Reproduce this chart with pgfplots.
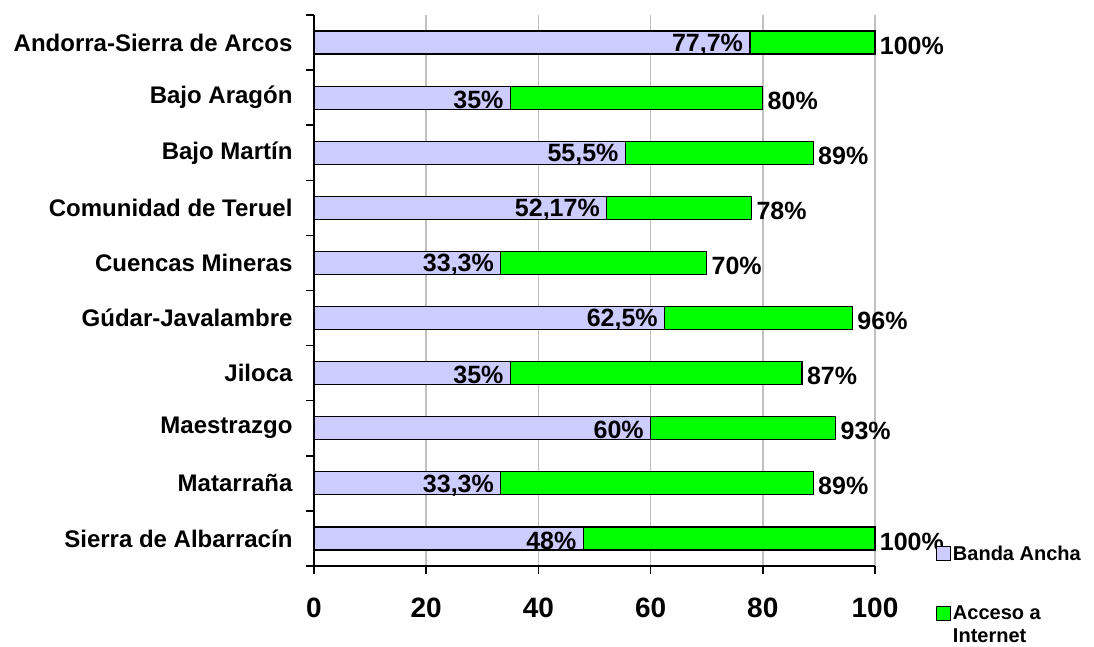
\documentclass[border=0pt]{standalone}
\usepackage{fontspec}
\setmainfont{Liberation Sans}
\usepackage{pgfplots}
\pgfplotsset{compat=1.18}
\definecolor{banda}{RGB}{204,204,255}
\definecolor{acceso}{RGB}{0,255,0}
\definecolor{rejilla}{RGB}{192,192,192}

\begin{document}
\begin{tikzpicture}
\path[use as bounding box] (-314pt,-80pt) rectangle (780pt,566pt);
\begin{axis}[
  scale only axis, width=561pt, height=551pt,
  xbar, bar width=23pt, bar shift=0pt,
  xmin=0, xmax=100, ymin=-0.5, ymax=9.5,
  clip=false,
  axis x line*=bottom, axis y line*=left,
  axis line style={-, line width=1.5pt},
  xtick={0,20,...,100}, minor xtick={0,20,...,100},
  ytick={0,...,9}, minor ytick={-0.5,0.5,...,9.5},
  yticklabels={Sierra de Albarracín, Matarraña, Maestrazgo, Jiloca,
    Gúdar-Javalambre, Cuencas Mineras, Comunidad de Teruel,
    Bajo Martín, Bajo Aragón, Andorra-Sierra de Arcos},
  major tick length=0pt, minor tick length=8pt,
  tick align=outside,
  tick style={black, line width=1.5pt},
  xmajorgrids, major grid style={rejilla, line width=1.5pt},
  /pgf/number format/assume math mode=true,
  xticklabel style={font=\bfseries\fontsize{28}{28}\selectfont, yshift=-28pt},
  yticklabel style={font=\bfseries\fontsize{24}{26}\selectfont, xshift=-18pt},
  reverse legend,
  legend image code/.code={\draw[#1, line width=1.2pt] (0pt,-7pt) rectangle (14pt,7pt);},
  legend style={at={(1.108,0.041)}, anchor=north west, draw=none, fill=none,
    inner sep=0pt, row sep=40pt, cells={align=left, anchor=west},
    font=\bfseries\fontsize{20}{23}\selectfont},
]
\addplot[fill=acceso, draw=black, line width=1.2pt, point meta=x,
  nodes near coords={\pgfmathprintnumber[fixed, precision=2, use comma]{\pgfplotspointmeta}\%},
  nodes near coords style={anchor=west, xshift=1pt, yshift=-3pt,
    font=\bfseries\fontsize{25}{25}\selectfont}]
  coordinates {
  (100,9) (80,8) (89,7) (78,6) (70,5) (96,4) (87,3) (93,2) (89,1) (100,0)
};
\addlegendentry{\vphantom{A}\smash{\begin{tabular}[t]{@{}l@{}}Acceso a\\Internet\end{tabular}}}
\addplot[fill=banda, draw=black, line width=1.2pt, point meta=x,
  nodes near coords={\pgfmathprintnumber[fixed, precision=2, use comma]{\pgfplotspointmeta}\%},
  nodes near coords style={anchor=east, xshift=-3pt, yshift=-2pt,
    font=\bfseries\fontsize{25}{25}\selectfont}]
  coordinates {
  (77.7,9) (35,8) (55.5,7) (52.17,6) (33.3,5) (62.5,4) (35,3) (60,2) (33.3,1) (48,0)
};
\addlegendentry{Banda Ancha}
\end{axis}
\end{tikzpicture}
\end{document}
